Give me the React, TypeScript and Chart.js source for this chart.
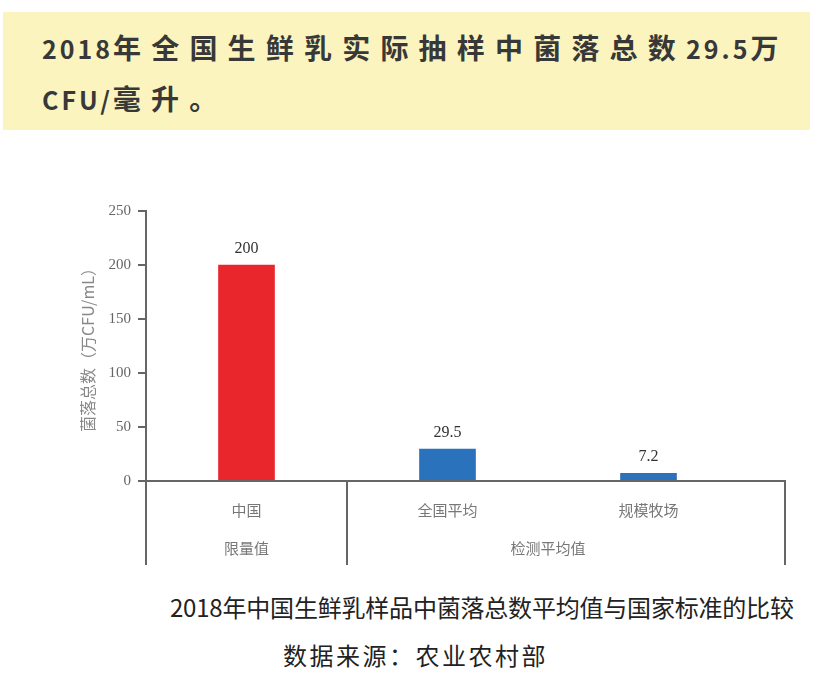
import React, { useEffect, useRef } from "react";
import { Chart, registerables } from "chart.js";

Chart.register(...registerables);

// ---- data ----
const categories = ["中国", "全国平均", "规模牧场"];
const values = [200, 29.5, 7.2];
const barColors = ["#E8262B", "#2B72BC", "#2B72BC"];
const groupLabels = ["限量值", "检测平均值"];
const groupFirst = [0, 1];
const groupLast = [0, 2];
const yMin = 0;
const yMax = 250;
const yStep = 50;
const yTitle = "菌落总数（万CFU/mL）";
const headline1 = "2018年全国生鲜乳实际抽样中菌落总数29.5万";
const headline2 = "CFU/毫升。";
const caption = "2018年中国生鲜乳样品中菌落总数平均值与国家标准的比较";
const source = "数据来源：农业农村部";

// ---- styles ----
const AXIS_COLOR = "#666";
const AXIS_EXT = 36;
const SEP_LEN = 84;
const GROUP_LABEL_OFFSET = 67;
const VALUE_LABEL_OFFSET = 16;
const CJK = "'Noto Sans CJK SC', 'Noto Sans', sans-serif";
const SERIF = "'Liberation Serif', 'DejaVu Serif', serif";

// split headline text into runs so Latin/digits and CJK get different tracking
function runs(text: string) {
  const out: { t: string; latin: boolean }[] = [];
  for (const ch of text) {
    const latin = /[\x00-\x7F]/.test(ch);
    const last = out[out.length - 1];
    if (last && last.latin === latin) last.t += ch;
    else out.push({ t: ch, latin });
  }
  return out;
}

function Headline({ text }: { text: string }) {
  return (
    <div>
      {runs(text).map((r, i) => (
        <span
          key={i}
          style={r.latin ? { letterSpacing: 3, fontSize: 25 } : { letterSpacing: 10.2, fontSize: 28 }}
        >
          {r.t}
        </span>
      ))}
    </div>
  );
}

const overlayPlugin = {
  id: "overlay",
  afterDraw(chart: any) {
    const { ctx, chartArea } = chart;
    const x = chart.scales.x;
    const bottom = chartArea.bottom;
    const right = chartArea.right + AXIS_EXT;
    ctx.save();
    ctx.strokeStyle = AXIS_COLOR;
    ctx.lineWidth = 2;
    ctx.beginPath();
    ctx.moveTo(chartArea.left - 1, bottom);
    ctx.lineTo(right + 1, bottom);
    const seps: number[] = [chartArea.left];
    for (let g = 0; g < groupLabels.length - 1; g++) {
      seps.push((x.getPixelForValue(groupLast[g]) + x.getPixelForValue(groupFirst[g + 1])) / 2);
    }
    seps.push(right);
    seps.forEach((sx) => {
      ctx.moveTo(sx, bottom);
      ctx.lineTo(sx, bottom + SEP_LEN);
    });
    ctx.stroke();

    ctx.fillStyle = "#777";
    ctx.font = `15px ${CJK}`;
    ctx.textAlign = "center";
    ctx.textBaseline = "middle";
    groupLabels.forEach((g, i) => {
      const cx = (x.getPixelForValue(groupFirst[i]) + x.getPixelForValue(groupLast[i])) / 2;
      ctx.fillText(g, cx, bottom + GROUP_LABEL_OFFSET);
    });

    ctx.fillStyle = "#333";
    ctx.font = `16px ${SERIF}`;
    const meta = chart.getDatasetMeta(0);
    meta.data.forEach((bar: any, i: number) => {
      ctx.fillText(String(values[i]), bar.x, bar.y - VALUE_LABEL_OFFSET);
    });
    ctx.restore();
  },
};

export default function App() {
  const ref = useRef<HTMLCanvasElement | null>(null);

  useEffect(() => {
    if (!ref.current) return;
    const chart = new Chart(ref.current, {
      type: "bar",
      data: {
        labels: categories,
        datasets: [
          {
            data: values,
            backgroundColor: barColors,
            barThickness: 56,
          },
        ],
      },
      options: {
        animation: false,
        responsive: false,
        maintainAspectRatio: false,
        layout: { padding: { top: 31, right: 69, bottom: 0, left: 0 } },
        plugins: { legend: { display: false }, tooltip: { enabled: false } },
        scales: {
          x: {
            type: "category",
            grid: { display: false, drawTicks: false },
            border: { display: false },
            ticks: {
              padding: 20,
              color: "#777",
              font: { family: CJK, size: 15 },
            },
            afterFit: (s: any) => {
              s.height = 99;
            },
          },
          y: {
            min: yMin,
            max: yMax,
            ticks: {
              stepSize: yStep,
              padding: 7,
              color: "#666",
              font: { family: SERIF, size: 15 },
            },
            grid: {
              drawOnChartArea: false,
              tickLength: 8,
              color: AXIS_COLOR,
              lineWidth: 2,
            },
            border: { color: AXIS_COLOR, width: 2 },
            title: {
              display: true,
              text: yTitle,
              color: "#888",
              font: { family: CJK, size: 16 },
              padding: { top: 78, bottom: 0 },
            },
            afterFit: (s: any) => {
              s.width = 146;
            },
          },
        },
      },
      plugins: [overlayPlugin],
    });
    return () => chart.destroy();
  }, []);

  return (
    <div style={{ position: "absolute", left: 0, top: 0, width: 818, height: 678, background: "#fff", overflow: "hidden" }}>
      <div
        style={{
          position: "absolute",
          left: 3,
          top: 12,
          width: 807,
          height: 118,
          background: "#FBF4BF",
          boxSizing: "border-box",
          paddingLeft: 39,
          paddingTop: 10,
          fontFamily: CJK,
          fontWeight: 700,
          fontSize: 28,
          lineHeight: "50px",
          color: "#383838",
          whiteSpace: "nowrap",
        }}
      >
        <Headline text={headline1} />
        <Headline text={headline2} />
      </div>
      <canvas ref={ref} width={818} height={400} style={{ position: "absolute", left: 0, top: 180, width: 818, height: 400 }} />
      <div
        style={{
          position: "absolute",
          left: 170,
          top: 592,
          fontFamily: CJK,
          fontSize: 24,
          lineHeight: "30px",
          letterSpacing: -0.2,
          color: "#222",
          whiteSpace: "nowrap",
        }}
      >
        {caption}
      </div>
      <div
        style={{
          position: "absolute",
          left: 283,
          top: 640,
          fontFamily: CJK,
          fontSize: 24,
          lineHeight: "30px",
          letterSpacing: 2.5,
          color: "#222",
          whiteSpace: "nowrap",
        }}
      >
        {source}
      </div>
    </div>
  );
}
